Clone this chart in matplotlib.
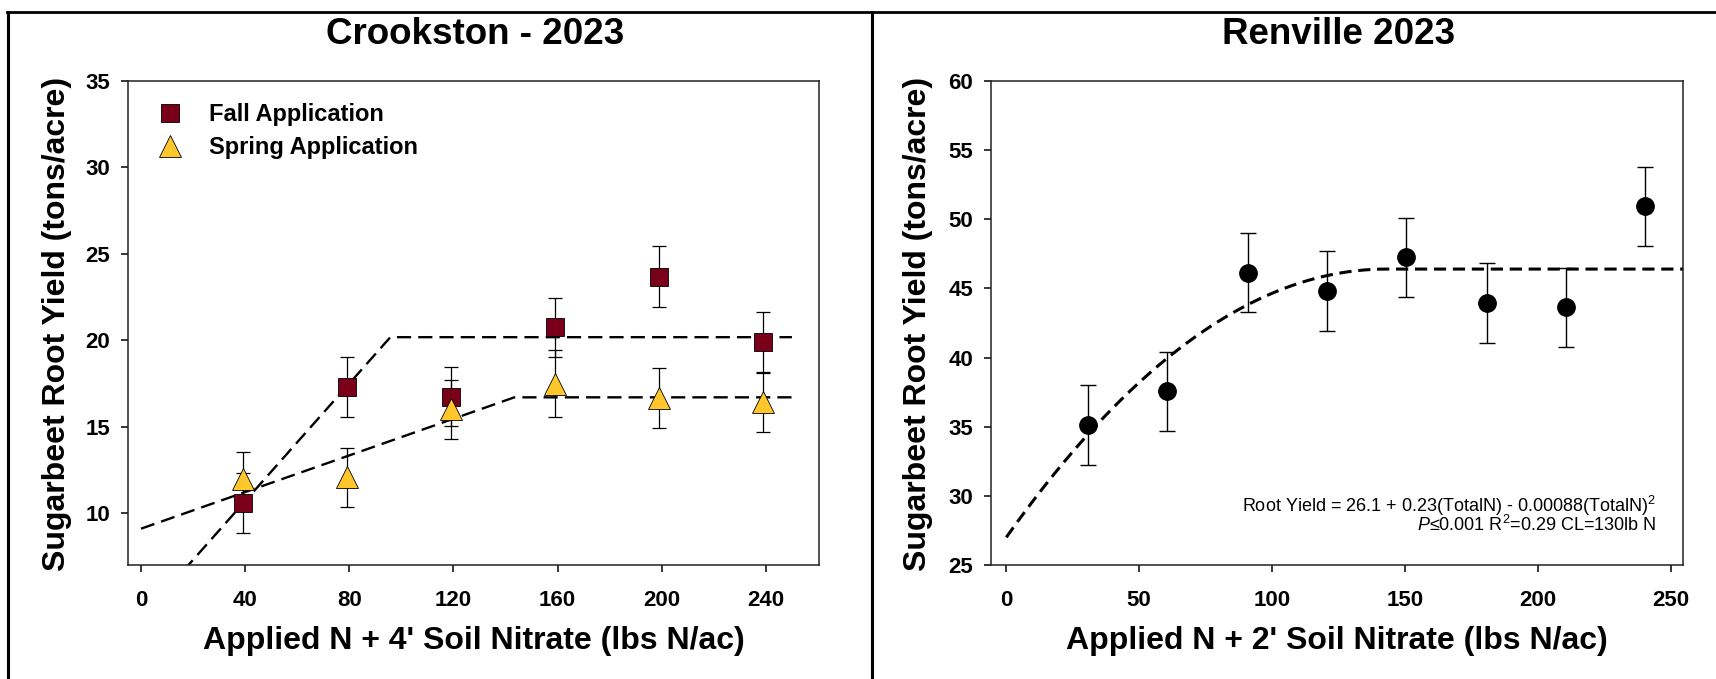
import numpy as np
import matplotlib
matplotlib.use("Agg")
import matplotlib.pyplot as plt
from matplotlib.lines import Line2D

plt.rcParams['font.family'] = ['Liberation Sans', 'DejaVu Sans']
plt.rcParams['mathtext.fontset'] = 'custom'
plt.rcParams['mathtext.rm'] = 'Liberation Sans'
plt.rcParams['mathtext.it'] = 'Liberation Sans:italic'
plt.rcParams['mathtext.bf'] = 'Liberation Sans:bold'

# ---------------- data ----------------
crk_x = [39, 79, 119, 159, 199, 239]
fall_y = [10.6, 17.3, 16.73, 20.75, 23.69, 19.88]
fall_err = [1.73, 1.75, 1.7, 1.72, 1.74, 1.77]
spring_y = [12.0, 12.07, 16.0, 17.48, 16.64, 16.43]
spring_err = [1.55, 1.72, 1.73, 1.93, 1.74, 1.72]
crk_xticks = [0, 40, 80, 120, 160, 200, 240]
crk_yticks = [10, 15, 20, 25, 30, 35]

# linear-plateau model parameters (intercept, slope, plateau)
fall_fit = (3.9, 0.170, 20.18)
spring_fit = (9.1, 0.053, 16.7)

ren_x = [30.6, 60.6, 90.8, 120.6, 150.4, 180.8, 210.6, 240.4]
ren_y = [35.1, 37.55, 46.15, 44.8, 47.25, 43.95, 43.65, 50.95]
ren_err = [2.9, 2.85, 2.85, 2.9, 2.85, 2.9, 2.85, 2.85]
ren_xticks = [0, 50, 100, 150, 200, 250]
ren_yticks = [25, 30, 35, 40, 45, 50, 55, 60]
# quadratic-plateau display curve (intercept, join point, plateau)
ren_fit = (27.0, 143.0, 46.4)

W, H = 1716, 679
fig = plt.figure(figsize=(W / 100, H / 100), dpi=100)


def fx(px):
    return px / W


def fy(py):
    return 1 - py / H


def style_axes(ax):
    for s in ax.spines.values():
        s.set_linewidth(1.1)
        s.set_color('#222222')
    ax.tick_params(axis='x', direction='out', length=5, width=1.1, pad=13,
                   labelsize=16, top=False)
    ax.tick_params(axis='y', direction='out', length=5, width=1.1, pad=8,
                   labelsize=16, right=False)
    for lab in ax.get_xticklabels() + ax.get_yticklabels():
        lab.set_fontweight('bold')


# ---------------- Crookston ----------------
ax1 = fig.add_axes([fx(128), fy(565), fx(819 - 128), (565 - 81) / H])
ax1.set_xlim(-5, 260.4)
ax1.set_ylim(7, 35)
ax1.set_xticks(crk_xticks)
ax1.set_yticks(crk_yticks)

xx = np.linspace(0, 250, 500)
for (a, b, p) in (fall_fit, spring_fit):
    ax1.plot(xx, np.minimum(a + b * xx, p), color='black', lw=1.7,
             linestyle=(0, (6, 3)), zorder=2)

ax1.errorbar(crk_x, fall_y, yerr=fall_err, fmt='none', ecolor='black',
             elinewidth=0.9, capsize=5, capthick=0.9, zorder=3)
ax1.errorbar(crk_x, spring_y, yerr=spring_err, fmt='none', ecolor='black',
             elinewidth=0.9, capsize=5, capthick=0.9, zorder=3)
ax1.plot(crk_x, fall_y, 's', ms=13, mfc='#7a0019', mec='black', mew=0.6,
         label='Fall Application', zorder=4)
ax1.plot(crk_x, spring_y, '^', ms=16, mfc='#ffc72c', mec='black', mew=0.6,
         label='Spring Application', zorder=4)

leg = ax1.legend(loc='upper left', bbox_to_anchor=(0.045, 0.954), frameon=False,
                 prop={'size': 17, 'weight': 'bold'}, handlelength=0.95,
                 handletextpad=1.15, labelspacing=0.42, borderpad=0, borderaxespad=0)

style_axes(ax1)
ax1.set_xlabel("Applied N + 4' Soil Nitrate (lbs N/ac)", fontsize=23, fontweight='bold')
ax1.set_ylabel("Sugarbeet Root Yield (tons/acre)", fontsize=23, fontweight='bold')
ax1.xaxis.label.set_va('center')
ax1.yaxis.label.set_va('center')
ax1.xaxis.set_label_coords(0.5, -0.157)
ax1.yaxis.set_label_coords(-71 / 691, 0.498)

fig.text(fx(475), fy(35), "Crookston - 2023", ha='center', va='center',
         fontsize=26.5, fontweight='bold')

# ---------------- Renville ----------------
ax2 = fig.add_axes([fx(991), fy(565), fx(1683 - 991), (565 - 81) / H])
ax2.set_xlim(-5.75, 254.7)
ax2.set_ylim(25, 60)
ax2.set_xticks(ren_xticks)
ax2.set_yticks(ren_yticks)

a0, x0, p0 = ren_fit
k = (p0 - a0) / x0 ** 2
xr = np.linspace(0, 255, 500)
yr = np.where(xr < x0, p0 - k * (xr - x0) ** 2, p0)
ax2.plot(xr, yr, color='black', lw=2.2, linestyle=(0, (4, 2.2)), zorder=2)

ax2.errorbar(ren_x, ren_y, yerr=ren_err, fmt='none', ecolor='black',
             elinewidth=1.0, capsize=6, capthick=1.0, zorder=3)
ax2.plot(ren_x, ren_y, 'o', ms=12.5, mfc='black', mec='black', zorder=4)

ax2.text(0.961, 0.122, r"Root Yield = 26.1 + 0.23(TotalN) - 0.00088(TotalN)$^2$",
         transform=ax2.transAxes, ha='right', va='center', fontsize=13)
ax2.text(0.961, 0.082, r"$\it{P}$≤0.001 R$^2$=0.29 CL=130lb N",
         transform=ax2.transAxes, ha='right', va='center', fontsize=13)

style_axes(ax2)
ax2.set_xlabel("Applied N + 2' Soil Nitrate (lbs N/ac)", fontsize=23, fontweight='bold')
ax2.set_ylabel("Sugarbeet Root Yield (tons/acre)", fontsize=23, fontweight='bold')
ax2.xaxis.label.set_va('center')
ax2.yaxis.label.set_va('center')
ax2.xaxis.set_label_coords(0.5, -0.157)
ax2.yaxis.set_label_coords(-73 / 692, 0.498)

fig.text(fx(1339), fy(35), "Renville 2023", ha='center', va='center',
         fontsize=26.5, fontweight='bold')

# ---------------- panel borders ----------------
fig.add_artist(Line2D([fx(7), 1], [fy(12), fy(12)], color='black', lw=2.0))
fig.add_artist(Line2D([fx(7.5), fx(7.5)], [0, fy(12)], color='black', lw=2.2))
fig.add_artist(Line2D([fx(872), fx(872)], [0, fy(12)], color='black', lw=2.2))

fig.savefig("out.png", dpi=100)
